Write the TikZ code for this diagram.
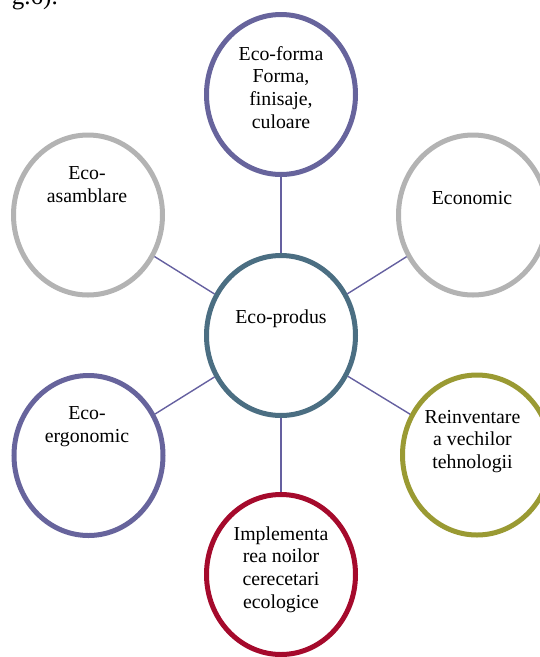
\documentclass[tikz,border=0pt]{standalone}
\usepackage{fontspec}
\setmainfont{Liberation Serif}
\usetikzlibrary{shapes.geometric}
\definecolor{cpurple}{HTML}{67649C}
\definecolor{cgrey}{HTML}{B3B3B3}
\definecolor{cteal}{HTML}{4B6E82}
\definecolor{colive}{HTML}{9A9A33}
\definecolor{ccrimson}{HTML}{A50A2C}
\definecolor{clink}{HTML}{6560A0}
\begin{document}
\begin{tikzpicture}[x=1pt,y=-1pt,
  bub/.style={ellipse, draw, line width=5pt, minimum width=149pt, minimum height=160pt, inner sep=0pt},
  lbl/.style={anchor=base, align=center, inner sep=0pt, font=\fontsize{19.8}{22.8}\selectfont},
  link/.style={draw=clink, line width=1.4pt}]
\useasboundingbox (0,0) rectangle (540,657);
\clip (0,0) rectangle (540,657);
\node[lbl, anchor=base east, font=\fontsize{25}{28}\selectfont] (frag) at (58,4) {g.6).};
\node[bub, draw=cpurple] (top) at (281,94.5) {};
\node[bub, draw=cteal] (ctr) at (281,335.5) {};
\node[bub, draw=cgrey] (ul) at (88,215) {};
\node[bub, draw=cgrey] (ur) at (473,215) {};
\node[bub, draw=cpurple] (ll) at (88.5,455.5) {};
\node[bub, draw=colive] (lr) at (477,455) {};
\node[bub, draw=ccrimson] (bot) at (281,574.5) {};
\draw[link] (ctr) -- (top);
\draw[link] (ctr) -- (ul);
\draw[link] (ctr) -- (ur);
\draw[link] (ctr) -- (ll);
\draw[link] (ctr) -- (lr);
\draw[link] (ctr) -- (bot);
% multi-line labels: base anchor sits on the last line's baseline
\node[lbl] (ttop) at (281,128.4) {Eco-forma\\Forma,\\finisaje,\\culoare};
\node[lbl] (tctr) at (281,323) {Eco-produs};
\node[lbl] (tul) at (87,202.5) {Eco-\\asamblare};
\node[lbl] (tur) at (472,204) {Economic};
\node[lbl] (tll) at (87,442.5) {Eco-\\ergonomic};
\node[lbl] (tlr) at (472.5,468.6) {Reinventare\\a vechilor\\tehnologii};
\node[lbl] (tbot) at (281,608.4) {Implementa\\rea noilor\\cerecetari\\ecologice};
\end{tikzpicture}
\end{document}
